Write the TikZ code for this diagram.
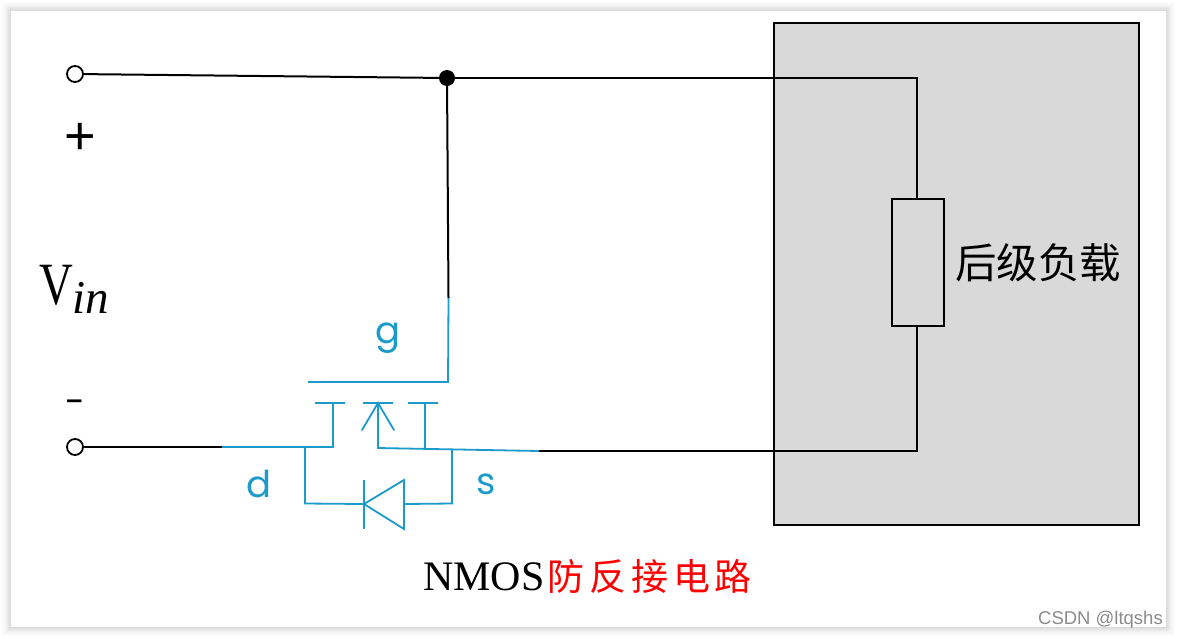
\documentclass[tikz,border=0pt]{standalone}
\usepackage{fontspec}
\setmainfont{Liberation Serif}
\newfontfamily\cjk{Noto Sans CJK SC}
\newfontfamily\lab{Poppins}
\newfontfamily\wm{Liberation Sans}
\usetikzlibrary{arrows.meta}
\definecolor{mos}{HTML}{1C9BCB}
\definecolor{loadgray}{HTML}{D9D9D9}
\tikzset{
  x=1pt,y=-1pt,
  wire/.style={draw=black,line width=2pt,line cap=round,line join=miter},
  boxline/.style={draw=black,line width=2pt},
  moswire/.style={draw=mos,line width=1.8pt,line join=miter},
  term/.style={circle,draw=black,fill=white,line width=1.8pt,minimum size=16pt,inner sep=0pt},
  junction/.style={circle,fill=black,minimum size=16pt,inner sep=0pt},
  moslabel/.style={text=mos,font=\lab\fontsize{37}{37}\selectfont,inner sep=0pt,anchor=base},
  cjkred/.style={text=red,inner sep=0pt,anchor=base,font=\cjk\fontsize{37}{37}\selectfont},
}
\begin{document}
\begin{tikzpicture}
\useasboundingbox (0,0) rectangle (1177,638);
% page and soft shadow
\fill[white] (0,0) rectangle (1177,638);
\foreach \d/\g in {9/1,8/2,7/3,6/4,5/6,4/8,3/10,2/12,1/14}{
  \fill[black!\g] (11-\d,11-\d) rectangle (1166+\d,627+\d);
}
\fill[white] (11,11) rectangle (1166,627);
% load block
\node[boxline,fill=loadgray,minimum width=365pt,minimum height=502pt,inner sep=0pt] (block) at (956.5,274) {};
\node[boxline,fill=loadgray,minimum width=52pt,minimum height=127pt,inner sep=0pt] (res) at (918,262.5) {};
\node[inner sep=0pt,anchor=west,font=\cjk\fontsize{41.5}{41.5}\selectfont] (loadtext) at (955,263) {后级负载};
% terminals and junction
\node[term] (tp) at (75,74) {};
\node[term] (tn) at (75,447) {};
\node[junction] (jn) at (447,78) {};
\coordinate (gtop) at (448.5,298);
\coordinate (gcorner) at (448,382);
\coordinate (gleft) at (308,382);
\coordinate (tr) at (917,78);
\coordinate (br) at (917,451);
\coordinate (dw) at (222,447);
\coordinate (sw) at (539,451);
% black wiring
\draw[wire] (tp) -- (jn);
\draw[wire] (jn) -- (gtop);
\draw[wire] (jn) -- (tr) -- (res.north -| tr);
\draw[wire] (res.south -| br) -- (br) -- (sw);
\draw[wire] (tn) -- (dw);
% gate
\draw[moswire] (gtop) -- (gcorner) -- (gleft);
% channel plates
\coordinate (dp) at (333,403);
\coordinate (mp) at (378,403);
\coordinate (sp) at (425,403);
\coordinate (dj) at (333,447);
\coordinate (mj) at (378,448);
\coordinate (sj) at (425,449);
\draw[moswire] (315,403) -- (345,403);
\draw[moswire] (363,403) -- (393,403);
\draw[moswire] (408,403) -- (438,403);
\draw[moswire] (dp) -- (dj) -- (dw);
\draw[moswire] (sp) -- (sj);
\draw[moswire] (mp) -- (mj) -- (sw);
\draw[moswire,line cap=round] (362,430) -- (mp) -- (394,430);
% body diode
\coordinate (dtl) at (305,447);
\coordinate (dbl) at (305,503.5);
\coordinate (dbar) at (364,504);
\coordinate (dbase) at (404,504);
\coordinate (dbr) at (452,503.5);
\coordinate (dtr) at (452,449.5);
\draw[moswire] (dtl) -- (dbl) -- (dbar);
\draw[moswire] (364,480) -- (364,529);
\draw[moswire] (dbar) -- (404,480) -- (404,529) -- cycle;
\draw[moswire] (dbase) -- (dbr) -- (dtr);
% labels
\node[moslabel] (lg) at (388,343) {g};
\node[moslabel] (ld) at (259,497) {d};
\node[moslabel] (ls) at (486,494) {s};
\node[inner sep=0pt,font=\wm\fontsize{54}{54}\selectfont] (plus) at (80,139) {+};
\node[inner sep=0pt,font=\lab\fontsize{36}{36}\selectfont] (minus) at (75,407) {-};
\node[inner sep=0pt,anchor=base west] (vin) at (39,304) {\scalebox{0.78}[1]{\fontsize{60}{60}\selectfont V}};
\node[inner sep=0pt,anchor=base west] (vsub) at (72,313) {\fontsize{47}{47}\selectfont\itshape in};
\node[inner sep=0pt,anchor=base west] (title) at (423,590) {\fontsize{42}{42}\selectfont NMOS};
\node[cjkred] (c1) at (566,590) {防};
\node[cjkred] (c2) at (608,590) {反};
\node[cjkred] (c3) at (650,590) {接};
\node[cjkred] (c4) at (692,590) {电};
\node[cjkred] (c5) at (733,590) {路};
\node[inner sep=0pt,anchor=base east,text=black!45,font=\wm\fontsize{18.5}{18.5}\selectfont] (wm) at (1163,624) {CSDN @ltqshs};
\end{tikzpicture}
\end{document}
